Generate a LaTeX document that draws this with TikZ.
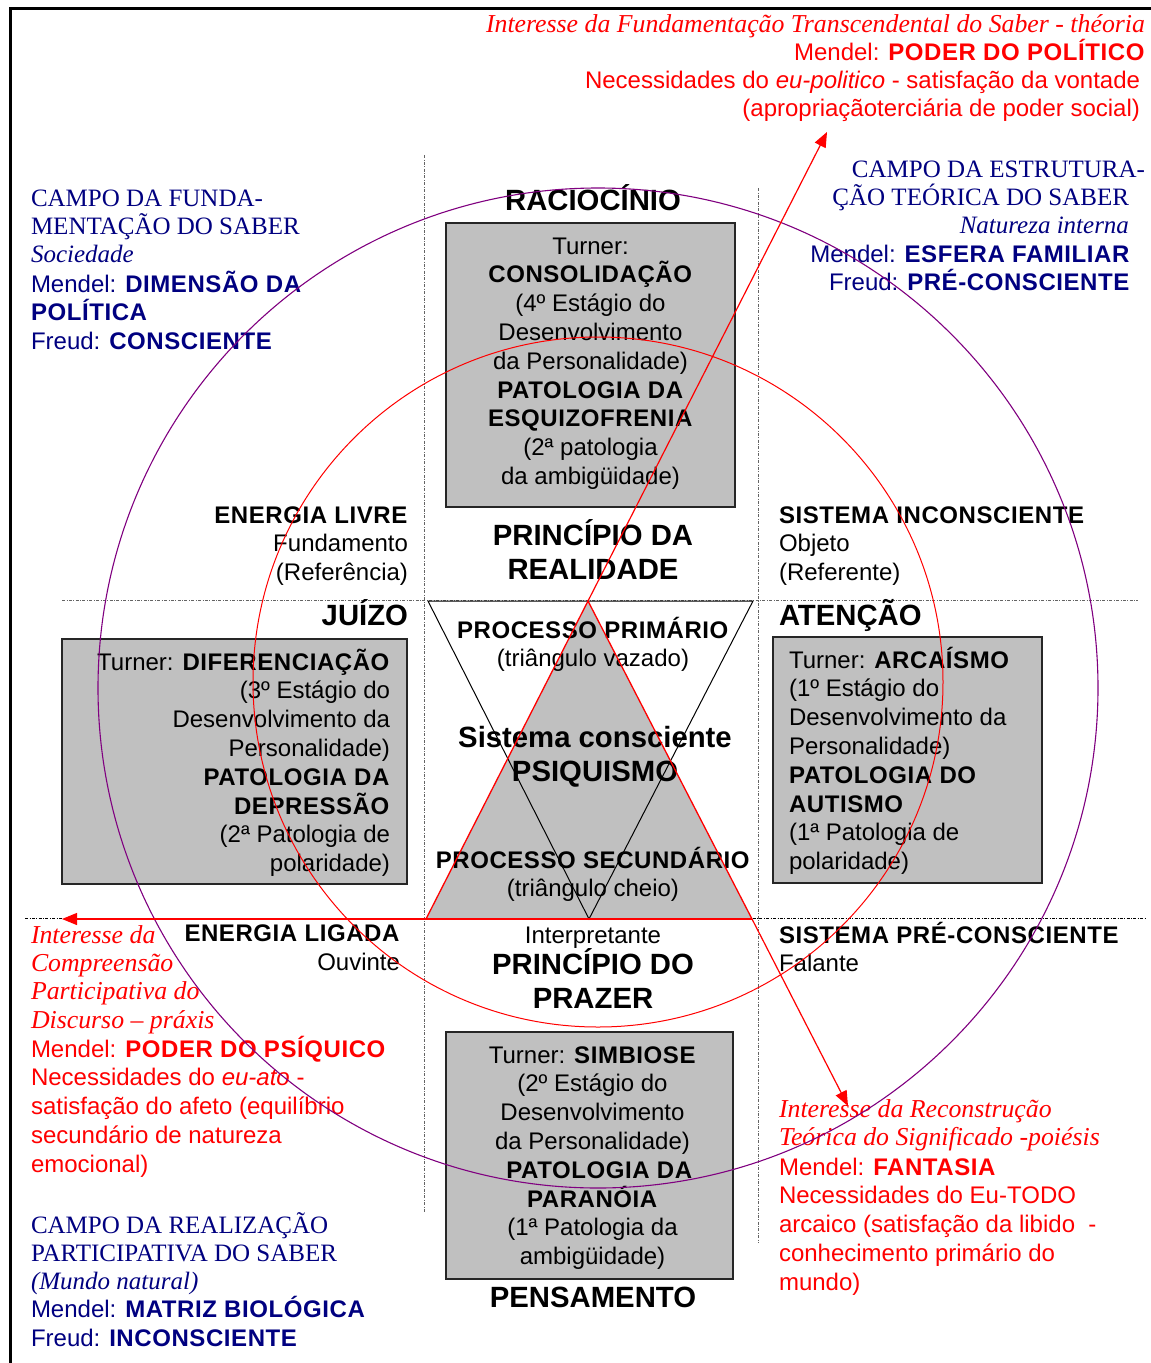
\documentclass[tikz,border=0pt]{standalone}
\usepackage{fontspec}
\setmainfont{Liberation Serif}
\setsansfont{Liberation Sans}[BoldFeatures={LetterSpace=2.4}]
\newfontfamily\headfont{Liberation Sans}
\usetikzlibrary{arrows.meta}
\definecolor{navy}{RGB}{0,0,128}
\definecolor{rd}{RGB}{255,0,0}
\definecolor{plum}{RGB}{128,0,128}
\definecolor{boxgray}{RGB}{192,192,192}
\definecolor{guidegray}{RGB}{100,100,100}
\newcommand\szN{\fontsize{24}{28.8}\selectfont}
\newcommand\szS{\fontsize{25}{28.4}\selectfont}
\newcommand\szI{\fontsize{25.8}{28.4}\selectfont}
\newcommand\szH{\fontsize{29.3}{34.2}\selectfont}
\begin{document}
% multi-line nodes are anchored at the baseline of their last line
\begin{tikzpicture}[x=1pt,y=-1pt,
  every node/.style={inner sep=0pt, outer sep=0pt},
  lbl/.style={font=\sffamily\szN},
  hdr/.style={font=\headfont\bfseries\szH},
  campo/.style={font=\rmfamily\szS, text=navy},
  campotxt/.style={font=\sffamily\szN, text=navy},
  interesse/.style={font=\rmfamily\itshape\szI, text=rd},
  redtxt/.style={font=\sffamily\szN, text=rd},
  graybox/.style={draw=black!85, line width=1.3pt, fill=boxgray},
  guide/.style={draw=guidegray, line width=0.8pt, dash pattern=on 3pt off 1.5pt on 0.8pt off 1.5pt},
  redarrow/.style={draw=rd, line width=1.2pt, -{Triangle[length=15pt,width=12pt]}}
]
\useasboundingbox (0,0) rectangle (1151,1363);
\fill[white] (0,0) rectangle (1151,1363);

% page frame
\draw[line width=3pt] (10,1363) -- (10,8) -- (1151,8);

% quadrant guides
\draw[guide] (424,155) -- (424,1212);
\draw[guide] (758,188) -- (758,1243);
\draw[guide] (62,600) -- (1138,600);
\draw[guide, draw=black] (25,918) -- (1146,918);

% grey stage boxes
\node[graybox, minimum width=289pt, minimum height=284pt] (boxTop) at (590.5,365) {};
\node[graybox, minimum width=345pt, minimum height=245pt] (boxLeft) at (234.5,761.5) {};
\node[graybox, minimum width=269pt, minimum height=246pt] (boxRight) at (907.5,760) {};
\node[graybox, minimum width=287pt, minimum height=247pt] (boxBottom) at (589.5,1155.5) {};

% the two triangles of the psyche
\coordinate (apex) at (588,601);
\coordinate (bl) at (426,919);
\coordinate (br) at (752,919);
\coordinate (itl) at (428,601);
\coordinate (itr) at (753,601);
\coordinate (ib) at (589,919);
\fill[boxgray] (bl) -- (apex) -- (br) -- cycle;
\draw[black, line width=1pt] (itl) -- (itr) -- (ib) -- cycle;

% centre column
\node[hdr, anchor=base] (raciocinio) at (593,210) {RACIOCÍNIO};
\node[lbl, anchor=base, align=center] (turnerTop) at (590.5,484.4) {Turner:\\\textbf{CONSOLIDAÇÃO}\\(4º Estágio do\\Desenvolvimento\\da Personalidade)\\\textbf{PATOLOGIA DA}\\\textbf{ESQUIZOFRENIA}\\(2ª patologia\\da ambigüidade)};
\node[hdr, anchor=base, align=center] (realidade) at (593,579.2) {PRINCÍPIO DA\\REALIDADE};
\node[lbl, anchor=base, align=center] (primario) at (593,666.8) {\textbf{PROCESSO PRIMÁRIO}\\(triângulo vazado)};
\node[hdr, anchor=base, align=center] (psiquismo) at (595,781.2) {Sistema consciente\\PSIQUISMO};
\node[lbl, anchor=base, align=center] (secundario) at (593,896.8) {\textbf{PROCESSO SECUNDÁRIO}\\(triângulo cheio)};
\node[lbl, anchor=base] (interpretante) at (593,943) {Interpretante};
\node[hdr, anchor=base, align=center] (prazer) at (593,1008.2) {PRINCÍPIO DO\\PRAZER};
\node[lbl, anchor=base, align=center] (turnerBottom) at (592.5,1264.6) {Turner: \textbf{SIMBIOSE}\\(2º Estágio do\\Desenvolvimento\\da Personalidade)\\\hspace*{14pt}\textbf{PATOLOGIA DA}\\\textbf{PARANÓIA}\\(1ª Patologia da\\ambigüidade)};
\node[hdr, anchor=base] (pensamento) at (593,1307) {PENSAMENTO};

% left column
\node[lbl, anchor=base east, align=right] (energiaLivre) at (408,580.6) {\textbf{ENERGIA LIVRE}\\Fundamento\\(Referência)};
\node[hdr, anchor=base east] (juizo) at (408,625) {JUÍZO};
\node[lbl, anchor=base east, align=right] (turnerLeft) at (390,871.6) {Turner: \textbf{DIFERENCIAÇÃO}\\(3º Estágio do\\Desenvolvimento da\\Personalidade)\\\textbf{PATOLOGIA DA}\\\textbf{DEPRESSÃO}\\(2ª Patologia de\\polaridade)};
\node[lbl, anchor=base east, align=right] (energiaLigada) at (400,970.5) {\textbf{ENERGIA LIGADA}\\Ouvinte};

% right column
\node[lbl, anchor=base west, align=left] (sistInc) at (779,580.6) {\textbf{SISTEMA INCONSCIENTE}\\Objeto\\(Referente)};
\node[hdr, anchor=base west] (atencao) at (779,625) {ATENÇÃO};
\node[lbl, anchor=base west, align=left] (turnerRight) at (789,869.6) {Turner: \textbf{ARCAÍSMO}\\(1º Estágio do\\Desenvolvimento da\\Personalidade)\\\textbf{PATOLOGIA DO}\\\textbf{AUTISMO}\\(1ª Patologia de\\polaridade)};
\node[lbl, anchor=base west, align=left] (sistPre) at (779,971.8) {\textbf{SISTEMA PRÉ-CONSCIENTE}\\Falante};

% fields of knowledge (blue)
\node[campo, anchor=base west, align=left] (campoFund) at (31,262.8) {CAMPO DA FUNDA-\\MENTAÇÃO DO SABER\\\textit{Sociedade}};
\node[campotxt, anchor=base west, align=left] (mendelFund) at (31,349.6) {Mendel: \textbf{DIMENSÃO DA}\\\textbf{POLÍTICA}\\Freud: \textbf{CONSCIENTE}};
\node[campo, anchor=base east] (campoEstrA) at (1145,177) {CAMPO DA ESTRUTURA-};
\node[campo, anchor=base east, align=right] (campoEstrB) at (1129,233.4) {ÇÃO TEÓRICA DO SABER\\\textit{Natureza interna}};
\node[campotxt, anchor=base east, align=right] (mendelEstr) at (1130,290.8) {Mendel: \textbf{ESFERA FAMILIAR}\\Freud: \textbf{PRÉ-CONSCIENTE}};
\node[campo, anchor=base west, align=left] (campoReal) at (31,1289.8) {CAMPO DA REALIZAÇÃO\\PARTICIPATIVA DO SABER\\\textit{(Mundo natural)}};
\node[campotxt, anchor=base west, align=left] (mendelReal) at (31,1346.5) {Mendel: \textbf{MATRIZ BIOLÓGICA}\\Freud: \textbf{INCONSCIENTE}};

% interests (red)
\node[interesse, anchor=base east] (interTransc) at (1145,32) {Interesse da Fundamentação Transcendental do Saber - théoria};
\node[redtxt, anchor=base east] (mendelPol) at (1145,60) {Mendel: \textbf{PODER DO POLÍTICO}};
\node[redtxt, anchor=base east, align=right] (necPol) at (1140,116.8) {Necessidades do \textit{eu-politico} - satisfação da vontade\\(apropriaçãoterciária de poder social)};
\node[interesse, anchor=base west, align=left] (interCompr) at (31,1028.2) {Interesse da\\Compreensão\\Participativa do\\Discurso – práxis};
\node[redtxt, anchor=base west, align=left] (mendelPsi) at (31,1172.2) {Mendel: \textbf{PODER DO PSÍQUICO}\\Necessidades do \textit{eu-ato} -\\satisfação do afeto (equilíbrio\\secundário de natureza\\emocional)};
\node[interesse, anchor=base west, align=left] (interRecon) at (779,1145.4) {Interesse da Reconstrução\\Teórica do Significado -poiésis};
\node[redtxt, anchor=base west, align=left] (mendelFant) at (779,1290.2) {Mendel: \textbf{FANTASIA}\\Necessidades do Eu-TODO\\arcaico (satisfação da libido~ -\\conhecimento primário do\\mundo)};

% circles
\draw[plum, line width=1.1pt] (598,688) circle[radius=500pt];
\draw[rd, line width=1pt] (598,682) circle[radius=345pt];

% red triangle and its arrows
\draw[rd, line width=1.3pt] (bl) -- (apex) -- (br) -- cycle;
\coordinate (tipN) at (827,132);
\coordinate (tipSE) at (848,1106);
\coordinate (tipW) at (62,919);
\draw[redarrow] (apex) -- (tipN);
\draw[redarrow] (br) -- (tipSE);
\draw[redarrow] (br) -- (tipW);
\end{tikzpicture}
\end{document}
